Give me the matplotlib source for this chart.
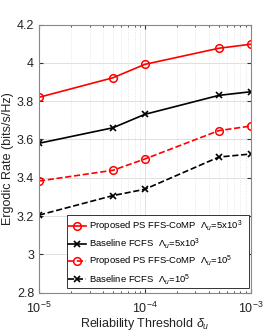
import matplotlib
matplotlib.use("Agg")
import matplotlib.pyplot as plt
from matplotlib.ticker import LogLocator, NullFormatter
from matplotlib.patches import Rectangle

plt.rcParams['font.family'] = ['Liberation Sans', 'DejaVu Sans']
plt.rcParams['mathtext.fontset'] = 'custom'
plt.rcParams['mathtext.rm'] = 'Liberation Sans'
plt.rcParams['mathtext.it'] = 'Liberation Sans:italic'

delta = [1e-5, 5e-5, 1e-4, 5e-4, 1e-3]
ps_5e3 = [3.82, 3.922, 3.992, 4.076, 4.097]
fcfs_5e3 = [3.58, 3.661, 3.731, 3.83, 3.849]
ps_1e5 = [3.383, 3.439, 3.498, 3.646, 3.67]
fcfs_1e5 = [3.205, 3.307, 3.34, 3.508, 3.524]

labels = [
    r'Proposed PS FFS-CoMP  $\Lambda_u$=5x10$^3$',
    r'Baseline FCFS  $\Lambda_u$=5x10$^3$',
    r'Proposed PS FFS-CoMP  $\Lambda_u$=10$^5$',
    r'Baseline FCFS  $\Lambda_u$=10$^5$',
]

W, H = 277, 336
fig = plt.figure(figsize=(W/100, H/100), dpi=100)
ax = fig.add_axes([39/W, 1 - 292.7/H, (250.7-39)/W, (292.7-24.5)/H])

ax.plot(delta, ps_5e3, '-o', color='red', lw=1.2, ms=5.5, mfc='none', mew=1.1, label=labels[0])
ax.plot(delta, fcfs_5e3, '-x', color='black', lw=1.2, ms=5, mew=1.2, label=labels[1])
ax.plot(delta, ps_1e5, '--o', color='red', lw=1.2, ms=5.5, mfc='none', mew=1.1, label=labels[2])
ax.plot(delta, fcfs_1e5, '--x', color='black', lw=1.2, ms=5, mew=1.2, label=labels[3])

ax.set_xscale('log')
ax.set_xlim(1e-5, 1e-3)
ax.set_ylim(2.8, 4.2)
ax.set_yticks([2.8, 3, 3.2, 3.4, 3.6, 3.8, 4, 4.2])
ax.set_yticklabels(['2.8', '3', '3.2', '3.4', '3.6', '3.8', '4', '4.2'])
ax.xaxis.set_minor_locator(LogLocator(base=10, subs=range(2, 10)))
ax.xaxis.set_minor_formatter(NullFormatter())

ax.grid(True, which='major', color='#e0e0e0', lw=0.7)
ax.grid(True, which='minor', axis='x', color='#e0e0e0', lw=0.6, ls=':')
ax.set_axisbelow(True)
for s in ax.spines.values():
    s.set_color('#888888')
    s.set_linewidth(0.8)
ax.tick_params(which='both', direction='in', colors='#333333', labelsize=9, labelcolor='#222222')
ax.tick_params(which='major', length=3)
ax.tick_params(which='minor', length=1.5)
ax.tick_params(top=True, right=True, which='both')
ax.tick_params(axis='x', which='major', pad=6)

ax.set_ylabel('Ergodic Rate (bits/s/Hz)', fontsize=9, color='#222222', labelpad=2)
ax.set_xlabel(r'Reliability Threshold $\delta_u$', fontsize=9, color='#222222', labelpad=0)

# legend (frameless content + MATLAB-like box)
leg = fig.legend(*ax.get_legend_handles_labels(), loc='upper left',
                 bbox_to_anchor=(68/W, 1 - 218.5/H), bbox_transform=fig.transFigure,
                 fontsize=6.8, frameon=False, handlelength=1.9, handletextpad=0.3,
                 borderpad=0.0, borderaxespad=0.0, labelspacing=0.28)
fig.add_artist(Rectangle((66.7/W, 1 - 287.7/H), (248.7-66.7)/W, (287.7-215)/H,
                         transform=fig.transFigure, fill=True, facecolor='white',
                         edgecolor='#333333', lw=0.7, zorder=leg.get_zorder() - 0.1))

fig.savefig('out.png', dpi=100)
